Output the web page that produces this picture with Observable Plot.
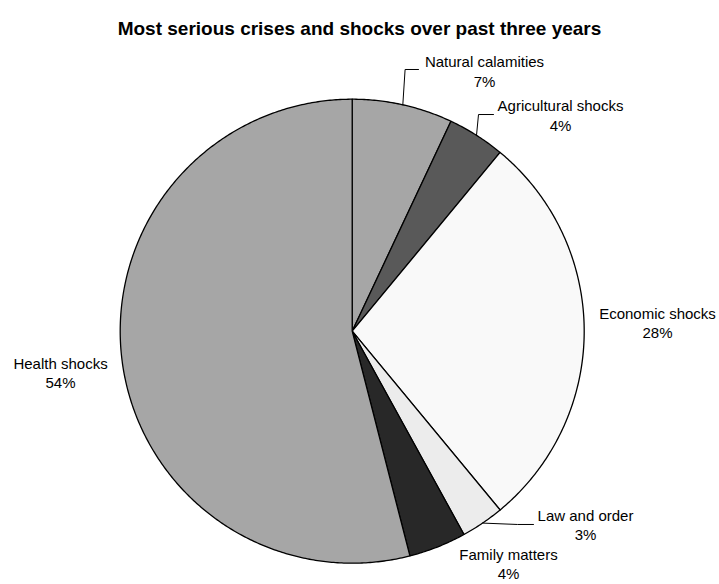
<!DOCTYPE html>
<html><head><meta charset="utf-8">
<script src="https://cdn.jsdelivr.net/npm/d3@7"></script>
<script src="https://cdn.jsdelivr.net/npm/@observablehq/plot@0.6"></script>
<style>
html,body{margin:0;padding:0;background:#fff;}
#title{height:46px;box-sizing:border-box;padding-top:19px;text-align:center;font:bold 19px "Liberation Sans",Arial,sans-serif;line-height:19px;color:#000;}
#chart svg{display:block;}
</style></head><body>
<div id="title">Most serious crises and shocks over past three years</div>
<div id="chart"></div>
<script>
// ---- data ----
const categories = ["Natural calamities", "Agricultural shocks", "Economic shocks", "Law and order", "Family matters", "Health shocks"];
const shares = [7, 4, 28, 3, 4, 54];
const percentLabels = ["7%", "4%", "28%", "3%", "4%", "54%"];

// ---- styles / layout (not data) ----
const sliceColors = ["#a6a6a6", "#595959", "#f9f9f9", "#ececec", "#282828", "#a6a6a6"];
// label block offset (px) from the slice's mid-arc point, and optional leader path offsets (px)
const labelLayout = [
  {dx: 81.7, dy: -33.8, leader: [[0, 0], [2.3, -35.3], [15.7, -35.3]]},
  {dx: 84, dy: -20.8, leader: [[0, 0], [2, -20.8], [17, -20.8]]},
  {dx: 73.3, dy: -8.7, leader: null},
  {dx: 102.9, dy: 1.4, leader: [[0, 0], [34.9, 1.4], [50.9, 1.4]]},
  {dx: 70.9, dy: 16.5, leader: null},
  {dx: -61.5, dy: 12.2, leader: null}
];

const W = 719, H = 538, titleH = 46;
const cx = 351.7, cy = 330.7 - titleH, R = 232;

const total = d3.sum(shares);
let acc = 0;
const slices = categories.map((c, i) => {
  const a0 = acc / total * 2 * Math.PI;
  acc += shares[i];
  const a1 = acc / total * 2 * Math.PI;
  const mid = (a0 + a1) / 2;
  return {category: c, value: shares[i], label: percentLabels[i], a0, a1, mx: Math.sin(mid), my: Math.cos(mid)};
});

const polys = slices.flatMap(s => {
  const n = Math.max(4, Math.ceil((s.a1 - s.a0) / Math.PI * 360));
  const pts = [{category: s.category, x: 0, y: 0}];
  for (let k = 0; k <= n; k++) {
    const a = s.a0 + (s.a1 - s.a0) * k / n;
    pts.push({category: s.category, x: Math.sin(a), y: Math.cos(a)});
  }
  pts.push({category: s.category, x: 0, y: 0});
  return pts;
});

const leaders = slices.flatMap((s, i) => {
  const L = labelLayout[i].leader;
  if (!L) return [];
  return L.map(([ox, oy]) => ({category: s.category, x: s.mx + ox / R, y: s.my - oy / R}));
});

const textMarks = slices.map((s, i) => Plot.text([s], {
  x: "mx", y: "my",
  text: d => d.category + "\n" + d.label,
  dx: labelLayout[i].dx, dy: labelLayout[i].dy,
  textAnchor: "middle", lineAnchor: "middle", lineHeight: 1.3,
  fontSize: 15, fontFamily: "'Liberation Sans', Arial, sans-serif", fill: "#000"
}));

const chart = Plot.plot({
  width: W, height: H, margin: 0,
  style: {background: "#fff", overflow: "visible"},
  x: {domain: [-1, 1], range: [cx - R, cx + R], axis: null},
  y: {domain: [-1, 1], range: [cy + R, cy - R], axis: null},
  color: {domain: categories, range: sliceColors},
  marks: [
    Plot.line(polys, {x: "x", y: "y", z: "category", fill: "category", stroke: "#000", strokeWidth: 1.3, strokeLinejoin: "round", curve: "linear"}),
    Plot.line(leaders, {x: "x", y: "y", z: "category", stroke: "#000", strokeWidth: 1, curve: "linear"}),
    ...textMarks
  ]
});
document.getElementById("chart").appendChild(chart);
</script>
</body></html>
